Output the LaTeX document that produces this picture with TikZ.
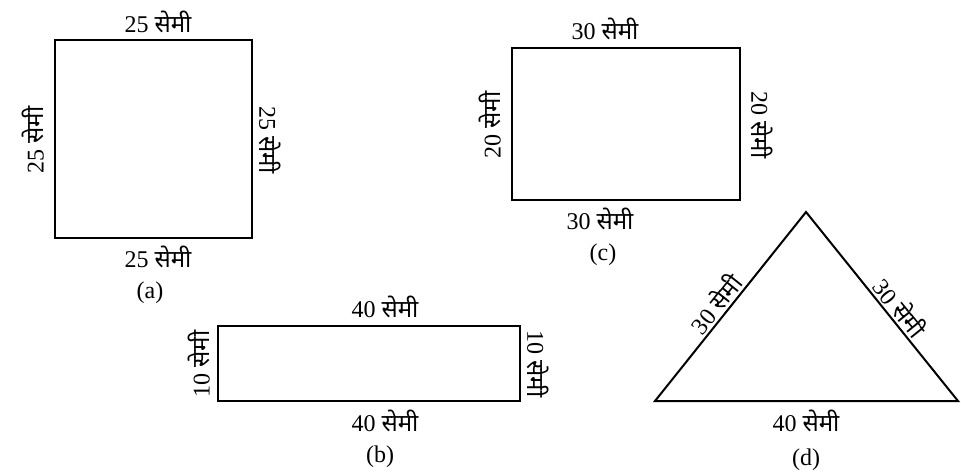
\documentclass[tikz,border=0pt]{standalone}
\usepackage{fontspec}
\setmainfont{Liberation Serif}
\newfontfamily\devfont[Script=Devanagari]{Noto Sans}
\usetikzlibrary{positioning}
\newcommand{\semi}[1]{#1~{\devfont सेमी}}

\begin{document}
\begin{tikzpicture}[x=0.5pt,y=0.5pt,font=\fontsize{12}{14}\selectfont,
 side/.style={draw=black,line width=1pt},
 lbl/.style={inner sep=1pt},
 vup/.style={lbl,rotate=90},
 vdown/.style={lbl,rotate=-90}]
\path[use as bounding box] (0,0) rectangle (961,473);
% (a) square
\draw[side] (55,235) rectangle (252,433);
\node[lbl] (atop) at (158,451) {\semi{25}};
\node[lbl] (abot) at (158,216) {\semi{25}};
\node[vup] (aleft) at (33,333) {\semi{25}};
\node[vdown] (aright) at (270,333) {\semi{25}};
\node[lbl] (acap) at (150,180) {(a)};
% (b) long rectangle
\draw[side] (218,72) rectangle (520,147);
\node[lbl] (btop) at (385,166) {\semi{40}};
\node[lbl] (bbot) at (385,52) {\semi{40}};
\node[vup] (bleft) at (199,109) {\semi{10}};
\node[vdown] (bright) at (538,109) {\semi{10}};
\node[lbl] (bcap) at (380,16) {(b)};
% (c) rectangle
\draw[side] (512,273) rectangle (740,425);
\node[lbl] (ctop) at (605,444) {\semi{30}};
\node[lbl] (cbot) at (600,254) {\semi{30}};
\node[vup] (cleft) at (490,348) {\semi{20}};
\node[vdown] (cright) at (762,348) {\semi{20}};
\node[lbl] (ccap) at (603,218) {(c)};
% (d) triangle
\coordinate (dl) at (655,72);
\coordinate (dr) at (958,72);
\coordinate (dt) at (806,261);
\draw[side,line join=miter] (dl) -- node[lbl,sloped,above,pos=.47] (dleft) {\semi{30}} (dt)
  -- node[lbl,sloped,above,pos=.55] (dright) {\semi{30}} (dr) -- cycle;
\node[lbl] (dbot) at (806,52) {\semi{40}};
\node[lbl] (dcap) at (806,13) {(d)};
\end{tikzpicture}
\end{document}
